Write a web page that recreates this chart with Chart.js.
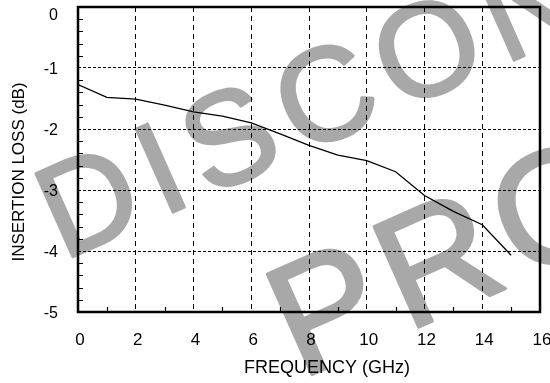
<!DOCTYPE html>
<html>
<head>
<meta charset="utf-8">
<script src="https://cdn.jsdelivr.net/npm/chart.js@4.4.1/dist/chart.umd.min.js"></script>
<style>
  html, body { margin: 0; padding: 0; background: #fff; }
  #wrap { width: 550px; height: 383px; position: relative; }
</style>
</head>
<body>
<div id="wrap"><canvas id="graph"></canvas></div>
<script>
const freqGHz = [0, 1, 2, 3, 4, 5, 6, 7, 8, 9, 10, 11, 12, 13, 14, 15];
const lossDB = [-1.27, -1.48, -1.51, -1.61, -1.72, -1.79, -1.90, -2.08, -2.27, -2.43, -2.52, -2.70, -3.09, -3.35, -3.57, -4.07];
const xTitle = 'FREQUENCY (GHz)';
const yTitle = 'INSERTION LOSS (dB)';
const watermark = ['DISCONTINUED', 'PRODUCT'];

const FONT = "'Liberation Sans', Arial, Helvetica, sans-serif";

function drawMark(c, text, x, y, size, spacing) {
    c.save();
    c.fillStyle = '#a8a8a8';
    c.strokeStyle = '#a8a8a8';
    c.lineWidth = 3;
    c.lineJoin = 'round';
    c.font = size + 'px ' + FONT;
    c.letterSpacing = spacing + 'px';
    c.textBaseline = 'alphabetic';
    c.textAlign = 'left';
    c.translate(x, y);
    c.rotate(-24 * Math.PI / 180);
    c.fillText(text, 0, 0);
    c.strokeText(text, 0, 0);
    c.restore();
}

// grey watermark, under everything else
const watermarkPlugin = {
    id: 'watermark',
    beforeDraw(chart) {
        drawMark(chart.ctx, watermark[0], 63, 261, 132, 13);
        drawMark(chart.ctx, watermark[1], 300, 380, 160, 10);
    }
};

// frame, minor ticks and axis titles
const framePlugin = {
    id: 'frame',
    afterDraw(chart) {
        const c = chart.ctx;
        const a = chart.chartArea;
        const xs = chart.scales.x;
        const ys = chart.scales.y;
        c.save();
        c.strokeStyle = '#000';
        c.lineWidth = 1.2;
        c.beginPath();
        for (let v = -4.8; v < -0.1; v += 0.2) {
            if (Math.abs(v - Math.round(v)) < 0.05) continue;
            const py = Math.round(ys.getPixelForValue(v)) + 0.5;
            c.moveTo(a.left, py);
            c.lineTo(a.left + 5, py);
        }
        for (let v = 1; v < 16; v += 2) {
            const px = Math.round(xs.getPixelForValue(v)) + 0.5;
            c.moveTo(px, a.bottom);
            c.lineTo(px, a.bottom - 5);
        }
        c.stroke();

        c.lineWidth = 2.5;
        c.strokeRect(a.left, a.top, a.right - a.left, a.bottom - a.top);

        c.fillStyle = '#000';
        c.textAlign = 'center';
        c.textBaseline = 'middle';
        c.font = '18px ' + FONT;
        c.fillText(xTitle, 327, 368);
        c.translate(19, 172);
        c.rotate(-Math.PI / 2);
        c.font = '17px ' + FONT;
        c.fillText(yTitle, 0, 0);
        c.restore();
    }
};

const ctx = document.getElementById('graph').getContext('2d');
const lossChart = new Chart(ctx, {
    type: 'line',
    data: {
        datasets: [{
            label: 'Insertion loss',
            data: freqGHz.map((f, i) => ({ x: f, y: lossDB[i] })),
            borderColor: '#000',
            borderWidth: 1.3,
            pointRadius: 0,
            tension: 0,
            fill: false
        }]
    },
    options: {
        responsive: true,
        maintainAspectRatio: false,
        animation: false,
        layout: { padding: { top: 7, right: 10, left: 0, bottom: 0 } },
        plugins: {
            legend: { display: false },
            tooltip: { enabled: false }
        },
        scales: {
            x: {
                type: 'linear',
                min: 0,
                max: 16,
                border: { display: false, dash: [5, 4] },
                grid: {
                    color: '#000',
                    lineWidth: 1,
                    drawTicks: false
                },
                ticks: {
                    stepSize: 2,
                    padding: 18,
                    labelOffset: 2,
                    color: '#000',
                    font: { family: FONT, size: 17 }
                },
                afterFit(scale) {
                    scale.height = 71;
                    scale.paddingLeft = 0;
                    scale.paddingRight = 0;
                }
            },
            y: {
                min: -5,
                max: 0,
                border: { display: false, dash: [3, 2] },
                grid: {
                    color: '#000',
                    lineWidth: 1,
                    drawTicks: false
                },
                ticks: {
                    stepSize: 1,
                    padding: 20,
                    labelOffset: 1.5,
                    color: '#000',
                    font: { family: FONT, size: 16, lineHeight: 0.9 },
                    callback: (v) => v === 0 ? ['', '0'] : String(v)
                },
                afterFit(scale) {
                    scale.width = 78;
                    scale.paddingTop = 0;
                    scale.paddingBottom = 0;
                }
            }
        }
    },
    plugins: [watermarkPlugin, framePlugin]
});
</script>
</body>
</html>
